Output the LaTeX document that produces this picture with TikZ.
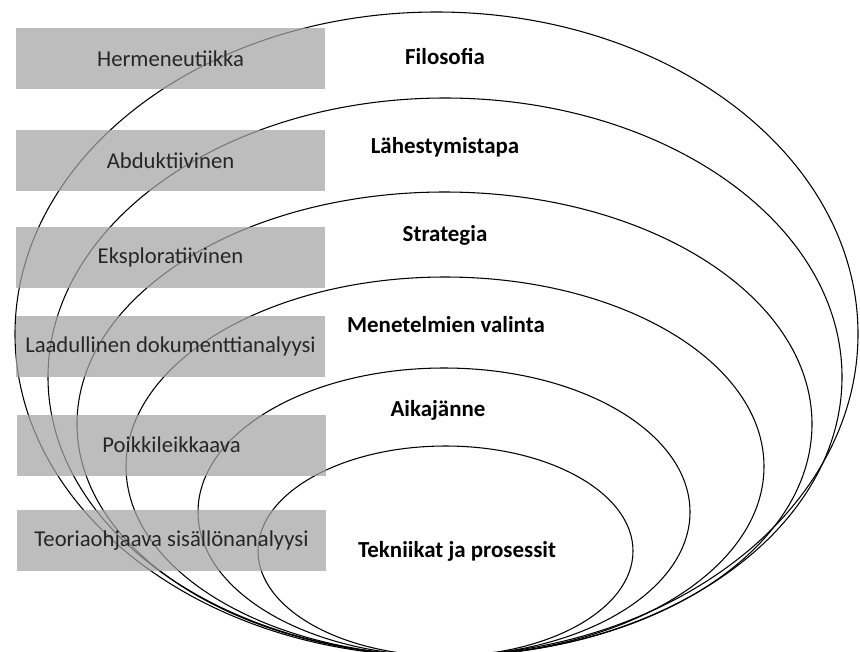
\documentclass[tikz,border=0pt]{standalone}
\usepackage{fontspec}
\setmainfont{Carlito}

\tikzset{
    layerbox/.style={fill={rgb,255:red,165;green,165;blue,165}, fill opacity=0.73,
        text opacity=1, text=black!85, inner sep=0pt,
        minimum width=231.75pt, minimum height=45.75pt,
        font=\fontsize{17}{20}\selectfont},
    layername/.style={font=\fontsize{17.2}{20}\selectfont\bfseries, text=black},
    onion/.style={draw=black, line width=0.8pt}
}

\begin{document}
\begin{tikzpicture}[x=0.75pt, y=-0.75pt]
    % Page size of the picture
    \clip (0,0) rectangle (860,651);

    % Onion layers (all touch at the bottom)
    \foreach \cx/\cy/\rx/\ry in {436.5/334/421.5/322, 445/377/397/279,
        444.5/424/367.5/232, 445/466.5/319/189.5, 444/512/246/144,
        445.5/551/187.5/105}
        \draw[onion] (\cx,\cy) ellipse [x radius=\rx, y radius=\ry];

    % Layer names
    \node[layername] (filosofia) at (445,57) {Filosofia};
    \node[layername] (lahest) at (445,147) {Lähestymistapa};
    \node[layername] (strategia) at (445,235) {Strategia};
    \node[layername] (menetelmat) at (446,325) {Menetelmien valinta};
    \node[layername] (aika) at (438,410) {Aikajänne};
    \node[layername] (tekniikat) at (457,551) {Tekniikat ja prosessit};

    % Choices in grey boxes
    \node[layerbox] (herm) at (170.5,58.5) {Hermeneutiikka};
    \node[layerbox] (abd) at (170.5,160.5) {Abduktiivinen};
    \node[layerbox] (eksp) at (170.5,257.5) {Eksploratiivinen};
    \node[layerbox] (laad) at (170.5,346.5) {Laadullinen dokumenttianalyysi};
    \node[layerbox] (poikki) at (171.5,445) {Poikkileikkaava};
    \node[layerbox] (teoria) at (171.5,540.5) {Teoriaohjaava sisällönanalyysi};
\end{tikzpicture}
\end{document}
